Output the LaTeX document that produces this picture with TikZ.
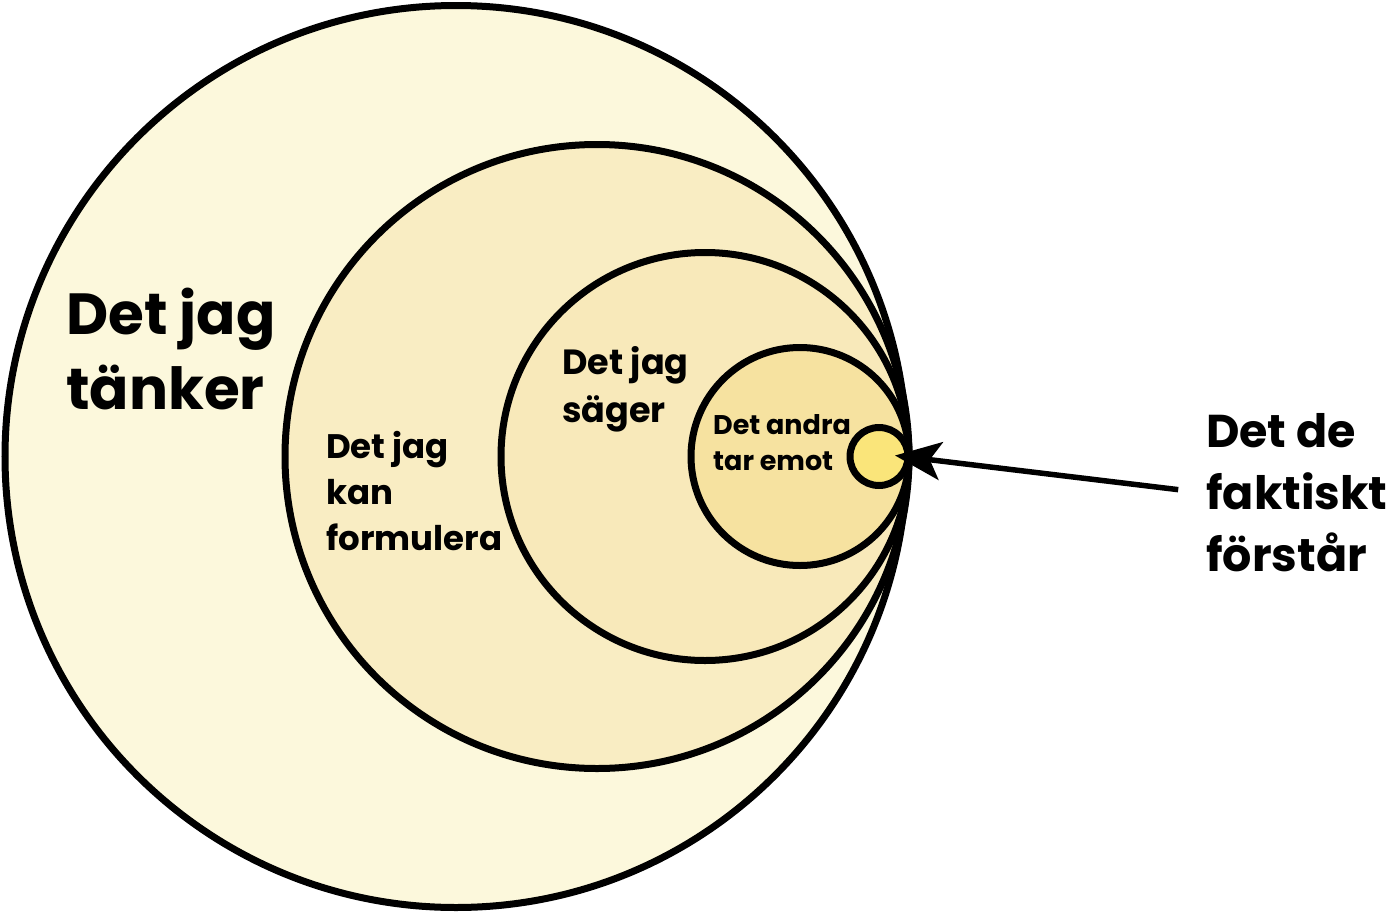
\documentclass[tikz,border=0pt]{standalone}
\usepackage{fontspec}
\setmainfont{Poppins}
\usetikzlibrary{arrows.meta}
\definecolor{c1}{HTML}{FCF8DC}
\definecolor{c2}{HTML}{F9EDC3}
\definecolor{c3}{HTML}{F8E9BA}
\definecolor{c4}{HTML}{F6E2A0}
\definecolor{c5}{HTML}{FAE57A}
\tikzset{
  ring/.style={circle, draw=black, line width=7pt, inner sep=0pt},
  lbl/.style={anchor=west, align=left, inner sep=0pt, font=\bfseries},
}
\begin{document}
\begin{tikzpicture}[x=1pt,y=-1pt]
\useasboundingbox (0,0) rectangle (1400,913);
\node[ring, fill=c1, minimum size=902pt] (r1) at (456,456.5) {};
\node[ring, fill=c2, minimum size=624pt] (r2) at (597,456.5) {};
\node[ring, fill=c3, minimum size=408pt] (r3) at (705,456.5) {};
\node[ring, fill=c4, minimum size=218pt] (r4) at (800,456.5) {};
\node[ring, fill=c5, minimum size=58pt] (r5) at (879,456.5) {};
\node[lbl, font=\bfseries\fontsize{58}{75}\selectfont] (t1) at (66,349) {Det jag\\tänker};
\node[lbl, font=\bfseries\fontsize{34}{46}\selectfont] (t2) at (326,491) {Det jag\\kan\\formulera};
\node[lbl, font=\bfseries\fontsize{35}{48}\selectfont] (t3) at (562,389) {Det jag\\säger};
\node[lbl, font=\bfseries\fontsize{27}{36}\selectfont] (t4) at (713,443) {Det andra\\tar emot};
\node[lbl, font=\bfseries\fontsize{46}{62}\selectfont] (t5) at (1206,493) {Det de\\faktiskt\\förstår};
\coordinate (tip) at (895,455.5);
\draw[line width=5.5pt, shorten <=28pt, -{Stealth[length=46pt, width=38pt, inset=11pt]}] (t5.west) -- (tip);
\end{tikzpicture}
\end{document}
